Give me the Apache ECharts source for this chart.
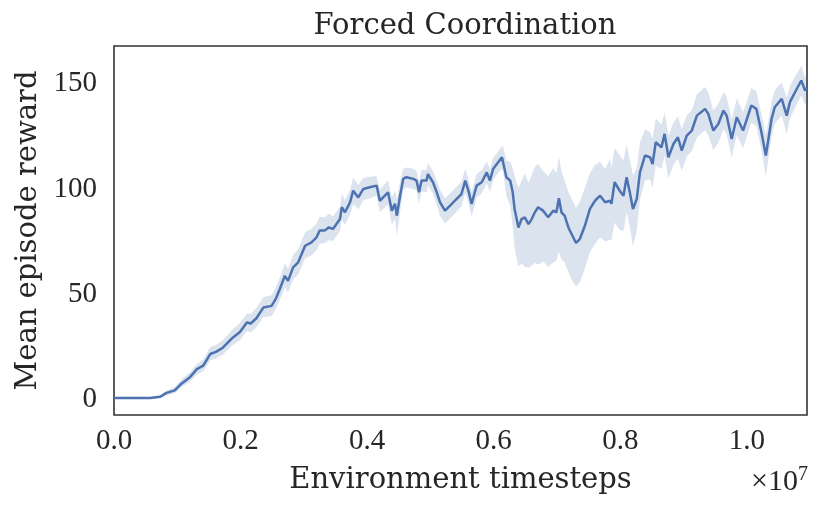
<!DOCTYPE html>
<html>
  <head>
    <meta charset="utf-8">
    <title>Forced Coordination</title>
    <script type="text/javascript" src="https://cdn.jsdelivr.net/npm/echarts@6/dist/echarts.min.js"></script>
    <style>
      html, body { margin: 0; padding: 0; background: #fff; }
    </style>
  </head>
  <body>
    <div id="main" style="width: 830px;height:515px;"></div>

    <script type="text/javascript">
    // timesteps, in units of 1e7
    var steps = [0.000, 0.025, 0.057, 0.073, 0.083, 0.096, 0.107, 0.120, 0.131, 0.141,
      0.152, 0.161, 0.172, 0.180, 0.188, 0.199, 0.210, 0.216, 0.225, 0.236,
      0.249, 0.256,
      0.262, 0.270, 0.275, 0.283, 0.291, 0.302, 0.312, 0.320, 0.325, 0.333,
      0.339, 0.346, 0.357, 0.360, 0.365, 0.373, 0.378, 0.386, 0.394, 0.404,
      0.415, 0.420, 0.428, 0.433, 0.439, 0.444, 0.447, 0.452, 0.457, 0.462,
      0.473, 0.478, 0.482, 0.486, 0.494, 0.496, 0.504, 0.510, 0.515, 0.523,
      0.531, 0.541, 0.549, 0.555, 0.560, 0.565, 0.573, 0.581, 0.589, 0.594,
      0.599, 0.607,
      0.613, 0.615, 0.620, 0.626, 0.630, 0.633, 0.639, 0.644, 0.649, 0.655,
      0.660, 0.665, 0.670, 0.678, 0.686, 0.694, 0.699, 0.703, 0.707, 0.712,
      0.718, 0.723, 0.730, 0.736, 0.744, 0.752, 0.760, 0.768, 0.776, 0.784,
      0.786, 0.791, 0.799, 0.805, 0.810, 0.815, 0.820, 0.826, 0.831, 0.839,
      0.847, 0.851, 0.856,
      0.865, 0.870, 0.876, 0.884, 0.891, 0.897, 0.905, 0.913, 0.921, 0.934,
      0.939, 0.947, 0.955, 0.963, 0.968, 0.976, 0.984, 0.994, 1.007, 1.015,
      1.023, 1.030, 1.039, 1.044, 1.055, 1.063, 1.068, 1.076, 1.086, 1.092,
      1.095];

    var meanReward = [0.6, 0.6, 0.6, 1.2, 3.0, 4.2, 7.5, 10.5, 14.3, 16.0,
      21.5, 22.5, 24.5, 27.0, 29.4, 32.0, 36.5, 36.0, 38.5, 43.6,
      44.4, 48.0,
      52.4, 58.7, 56.3, 62.7, 65.1, 73.0, 74.6, 77.0, 80.2, 80.2,
      81.7, 81.0, 85.7, 91.3, 88.9, 93.7, 99.2, 96.0, 100.0, 100.8,
      101.6, 94.4, 96.8, 98.4, 89.7, 92.9, 87.3, 96.8, 104.8, 105.6,
      104.8, 104.0, 98.4, 104.0, 104.0, 107.1, 103.2, 98.4, 93.7, 89.7,
      92.1, 95.2, 97.6, 104.0, 99.2, 92.9, 101.6, 103.2, 107.9, 104.0,
      109.5, 112.7,
      115.1, 114.3, 105.6, 104.0, 98.4, 90.5, 81.7, 85.7, 86.5, 83.3,
      85.7, 88.9, 91.3, 89.7, 86.5, 89.7, 88.9, 95.6, 88.9, 87.3,
      81.7, 78.6, 74.3, 76.2, 82.5, 90.5, 94.4, 96.8, 93.7, 94.4,
      92.9, 103.2, 99.2, 96.8, 105.6, 98.4, 90.5, 95.2, 107.9, 115.9,
      115.1, 111.9, 122.2,
      119.8, 126.2, 115.1, 121.4, 124.6, 118.3, 125.4, 127.8, 134.9, 138.1,
      135.7, 127.8, 131.0, 137.3, 134.9, 123.8, 134.1, 127.8, 139.7, 138.1,
      127.0, 115.9, 133.3, 138.9, 142.9, 134.9, 141.3, 146.0, 151.6, 146.8,
      148.0];

    var lowerReward = [0.3, 0.3, 0.2, 0.5, 1.8, 2.8, 5.8, 8.3, 11.8, 13.3,
      18.4, 19.4, 21.2, 23.6, 25.8, 28.2, 32.4, 31.8, 34.2, 39.0,
      39.6, 43.0,
      47.2, 53.2, 50.8, 57.0, 59.2, 67.0, 68.4, 70.8, 74.0, 74.2,
      75.6, 75.2, 79.8, 85.2, 83.0, 87.8, 92.8, 90.4, 94.6, 95.6,
      96.8, 89.0, 91.2, 92.6, 83.0, 85.8, 77.5, 89.0, 99.6, 100.8,
      100.0, 99.2, 93.0, 98.8, 98.6, 101.8, 97.6, 92.4, 87.4, 83.6,
      86.0, 89.2, 91.8, 98.2, 93.4, 86.8, 96.0, 97.8, 102.6, 98.6,
      104.2, 107.6,
      109.6, 108.0, 96.5, 92.0, 82.0, 72.0, 63.0, 64.5, 63.0, 62.5,
      63.5, 65.0, 64.0, 65.5, 63.0, 65.0, 66.0, 70.0, 66.5, 65.0,
      60.5, 57.0, 53.5, 55.5, 62.0, 70.0, 74.0, 77.0, 75.0, 76.0,
      75.5, 84.0, 80.5, 80.0, 89.0, 82.0, 73.0, 80.0, 95.0, 104.0,
      104.5, 100.5, 111.0,
      109.5, 116.0, 105.0, 111.5, 114.5, 108.5, 115.5, 118.0, 124.5, 128.0,
      125.5, 118.5, 122.0, 128.5, 126.0, 115.0, 125.5, 119.5, 131.5, 130.0,
      118.5, 106.0, 125.0, 131.0, 135.0, 126.0, 133.5, 138.5, 144.5, 140.0,
      141.0];

    var upperReward = [0.9, 0.9, 1.0, 2.0, 4.2, 5.8, 9.6, 12.8, 16.8, 18.9,
      24.8, 25.8, 28.0, 30.8, 33.4, 36.2, 40.9, 40.5, 43.4, 48.6,
      49.5, 53.4,
      57.8, 64.5, 62.0, 68.6, 71.4, 79.4, 81.0, 83.6, 86.8, 86.4,
      88.2, 87.0, 91.6, 97.8, 94.6, 99.6, 105.4, 101.8, 105.2, 105.8,
      106.2, 99.6, 102.4, 104.2, 96.0, 99.4, 95.2, 103.6, 109.6, 110.2,
      109.6, 108.6, 103.6, 109.0, 109.2, 112.2, 108.6, 104.0, 99.6, 95.6,
      98.0, 101.0, 103.4, 109.6, 104.8, 98.6, 107.2, 108.8, 113.2, 109.4,
      114.8, 117.8,
      120.4, 120.0, 113.5, 113.0, 110.0, 106.0, 100.5, 104.0, 107.5, 103.0,
      106.5, 110.5, 112.0, 108.5, 106.0, 110.0, 107.5, 115.5, 108.5, 104.0,
      98.5, 95.5, 91.0, 94.0, 100.5, 107.5, 111.5, 113.0, 109.5, 114.5,
      110.0, 119.5, 116.0, 113.5, 121.0, 114.0, 106.5, 110.0, 122.0, 128.5,
      127.0, 124.0, 133.5,
      130.5, 136.5, 125.5, 131.5, 134.5, 128.5, 135.0, 137.5, 145.0, 148.5,
      146.0, 137.5, 140.5, 146.0, 144.0, 133.0, 143.0, 136.5, 148.0, 146.5,
      135.5, 125.5, 141.5, 147.0, 150.5, 143.5, 149.0, 153.5, 158.5, 153.0,
      154.5];

    var xTicks = [0, 0.2, 0.4, 0.6, 0.8, 1.0];
    var yTicks = [0, 50, 100, 150];

    var meanData = [];
    for (var i = 0; i < steps.length; i++) {
      meanData.push([steps[i], meanReward[i]]);
    }

    var nameFont = 'DejaVu Serif';
    var tickFont = 'Liberation Serif';
    var textColor = '#262626';
    var myChart = echarts.init(document.getElementById('main'));

    // shaded band between lower and upper, drawn once as a polygon
    function renderBand(params, api) {
      if (params.dataIndex !== 0) return;
      var pts = [];
      for (var i = 0; i < steps.length; i++) {
        pts.push(api.coord([steps[i], upperReward[i]]));
      }
      for (var j = steps.length - 1; j >= 0; j--) {
        pts.push(api.coord([steps[j], lowerReward[j]]));
      }
      return {
        type: 'polygon',
        shape: { points: pts },
        style: { fill: 'rgba(76,114,176,0.2)' }
      };
    }

    var option = {
      backgroundColor: '#fff',
      animation: false,
      title: {
        text: 'Forced Coordination',
        left: 460,
        top: 7,
        textAlign: 'center',
        textStyle: { fontFamily: nameFont, fontSize: 29, fontWeight: 'normal', color: textColor }
      },
      grid: {
        left: 114, right: 23, top: 46, bottom: 100,
        show: true, borderColor: '#333', borderWidth: 1.6
      },
      xAxis: {
        type: 'value',
        min: 0,
        max: 1.095,
        name: 'Environment timesteps',
        nameLocation: 'middle',
        nameGap: 51,
        nameTextStyle: { fontFamily: nameFont, fontSize: 29, color: textColor },
        axisLine: { show: false },
        axisTick: { show: false },
        splitLine: { show: false },
        axisLabel: {
          customValues: xTicks,
          margin: 12,
          fontFamily: tickFont, fontSize: 29, color: textColor,
          formatter: function (v) { return v.toFixed(1); }
        }
      },
      yAxis: {
        type: 'value',
        min: -7.5,
        max: 168,
        name: 'Mean episode reward',
        nameLocation: 'middle',
        nameGap: 62,
        nameTextStyle: { fontFamily: nameFont, fontSize: 29, color: textColor },
        axisLine: { show: false },
        axisTick: { show: false },
        splitLine: { show: false },
        axisLabel: {
          customValues: yTicks,
          margin: 17,
          fontFamily: tickFont, fontSize: 29, color: textColor
        }
      },
      graphic: [{
        type: 'text',
        right: 22,
        top: 465,
        style: {
          text: '×10{s|7}',
          fontFamily: tickFont, fontSize: 30, fill: textColor,
          rich: { s: { fontFamily: tickFont, fontSize: 20, verticalAlign: 'top', padding: [0, 0, 14, 0] } }
        }
      }],
      series: [
        {
          name: 'band', type: 'custom', data: [[0, 0]],
          renderItem: renderBand,
          silent: true, clip: true, z: 1
        },
        {
          name: 'mean', type: 'line', data: meanData,
          symbol: 'none', z: 2,
          lineStyle: { color: '#4c72b0', width: 2.5 },
          itemStyle: { color: '#4c72b0' }
        }
      ]
    };

    myChart.setOption(option);
    </script>
  </body>
</html>
